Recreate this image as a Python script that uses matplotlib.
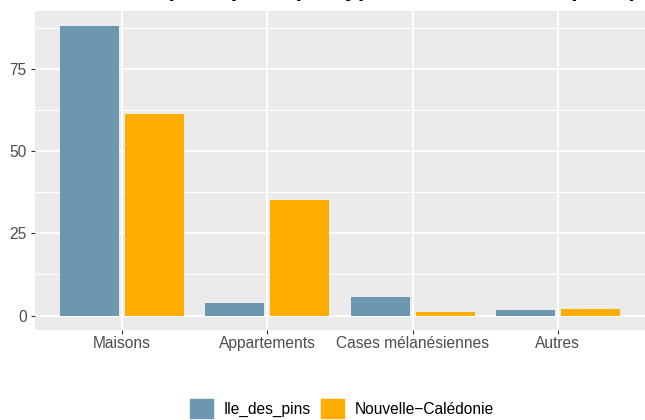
import numpy as np
import matplotlib
matplotlib.use("Agg")
import matplotlib.pyplot as plt
from matplotlib.patches import Patch

# data (percent)
categories = ["Maisons", "Appartements", "Cases mélanésiennes", "Autres"]
ile_des_pins = [88.2, 3.8, 5.6, 1.7]
nouvelle_caledonie = [61.4, 35.2, 1.1, 2.0]
series_names = ["Ile_des_pins", "Nouvelle\u2212Calédonie"]
colors = ["#6D97AE", "#FFAC00"]
title = "Résidences principales par type de construction (en %)"

plt.rcParams["font.family"] = ["Liberation Sans", "DejaVu Sans"]

fig = plt.figure(figsize=(6.45, 4.2), dpi=100)
ax = fig.add_axes([35 / 645, 1 - 330 / 420, 610 / 645, 319 / 420])

x = np.arange(len(categories))
offset = 0.224
width = 0.407
ax.bar(x - offset, ile_des_pins, width, color=colors[0], zorder=3)
ax.bar(x + offset, nouvelle_caledonie, width, color=colors[1], zorder=3)

# ggplot-like look
ax.set_facecolor("#EBEBEB")
for s in ax.spines.values():
    s.set_visible(False)
ymax = max(max(ile_des_pins), max(nouvelle_caledonie))
ax.set_ylim(-0.05 * ymax, 1.05 * ymax)
ax.set_xlim(-0.6, len(categories) - 0.4)
ax.set_yticks([0, 25, 50, 75])
ax.set_yticks([12.5, 37.5, 62.5, 87.5], minor=True)
ax.set_xticks(x)
ax.set_xticklabels(categories)
ax.grid(True, which="major", color="white", linewidth=1.4, zorder=0)
ax.grid(True, which="minor", axis="y", color="white", linewidth=0.7, zorder=0)
ax.set_axisbelow(True)
ax.tick_params(which="major", length=3, width=0.8, color="#333333",
               labelcolor="#4D4D4D", labelsize=11.2)
ax.tick_params(axis="x", pad=1)
ax.tick_params(axis="y", pad=3)
ax.tick_params(which="minor", length=0)

# title is cut off at the top of the reference image, only descenders show
fig.text(35 / 645, 1 + 4.3 / 420, title, fontsize=16.5, fontweight="bold",
         ha="left", va="baseline")

handles = [Patch(color=c) for c in colors]
fig.legend(handles, series_names, loc="upper left",
           bbox_to_anchor=(190 / 645, 1 - 399 / 420), ncol=2, frameon=False,
           fontsize=11.2, handlelength=1.48, handleheight=1.48,
           handletextpad=0.65, columnspacing=0.7, borderpad=0, borderaxespad=0)

fig.savefig("out.png", dpi=100)
